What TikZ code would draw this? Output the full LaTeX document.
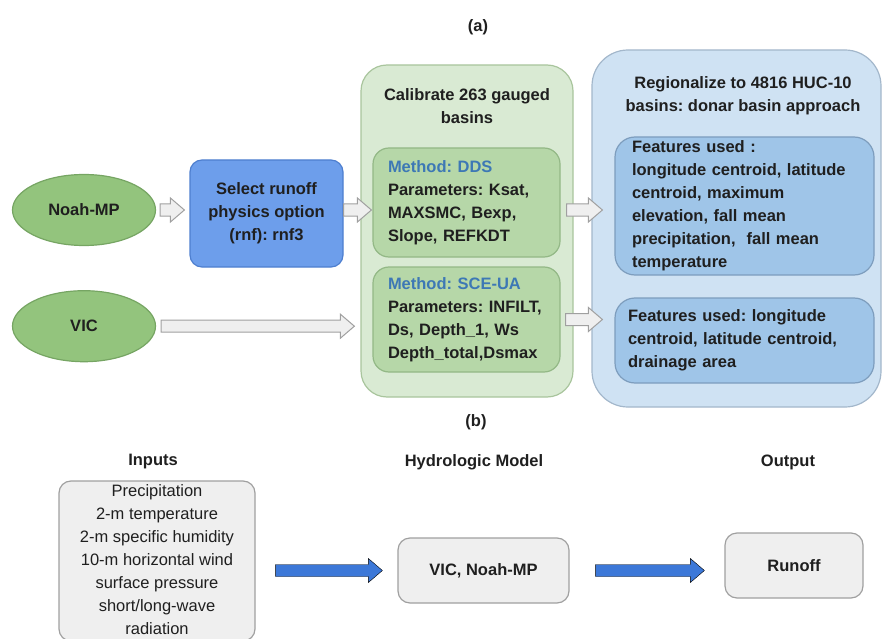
\documentclass[tikz,border=0pt]{standalone}
\usepackage{fontspec}
\setmainfont{Liberation Sans}
\frenchspacing
\usetikzlibrary{shapes.geometric, positioning, calc}

\definecolor{ovalgreen}{HTML}{93C47D}
\definecolor{ovaledge}{HTML}{76A563}
\definecolor{selectblue}{HTML}{6D9EEB}
\definecolor{selectedge}{HTML}{4E7FCF}
\definecolor{calibfill}{HTML}{D9EAD3}
\definecolor{calibedge}{HTML}{A9C59D}
\definecolor{methodfill}{HTML}{B6D7A8}
\definecolor{methodedge}{HTML}{93B886}
\definecolor{methodtext}{HTML}{3D78B5}
\definecolor{regionfill}{HTML}{CFE2F3}
\definecolor{regionedge}{HTML}{A3B7CB}
\definecolor{featfill}{HTML}{9FC5E8}
\definecolor{featedge}{HTML}{7D9DBD}
\definecolor{boxgray}{HTML}{EFEFEF}
\definecolor{edgegray}{HTML}{A0A0A0}
\definecolor{arrowblue}{HTML}{3C78D8}
\definecolor{inktext}{HTML}{1F1F1F}

\tikzset{
  base_font/.style={font=\fontsize{16.5}{23}\selectfont\bfseries, text=inktext},
  model_oval/.style={ellipse, draw=ovaledge, fill=ovalgreen, line width=1.2pt, minimum width=143pt, minimum height=71pt, base_font},
  option_box/.style={rectangle, draw=selectedge, fill=selectblue, line width=1.2pt, rounded corners=12pt, minimum width=153pt, minimum height=107pt, align=center, base_font},
  outer_green/.style={rectangle, draw=calibedge, fill=calibfill, line width=1.2pt, rounded corners=26pt},
  outer_blue/.style={rectangle, draw=regionedge, fill=regionfill, line width=1.2pt, rounded corners=36pt},
  method_box/.style={rectangle, draw=methodedge, fill=methodfill, line width=1.2pt, rounded corners=16pt, inner xsep=15pt, text width=157pt, align=left, base_font},
  feature_box/.style={rectangle, draw=featedge, fill=featfill, line width=1.2pt, rounded corners=20pt, align=left, base_font},
  heading/.style={align=center, base_font},
  plain_box/.style={rectangle, draw=edgegray, fill=boxgray, line width=1.2pt, rounded corners=12pt, align=center, font=\fontsize{16.5}{23}\selectfont, text=inktext},
  block_path/.style n args={2}{to path={let \p1=(\tikztostart), \p2=(\tikztotarget) in
    (\x1+#1,\y1+6pt) -- (\x2-#2-14pt,\y1+6pt) -- (\x2-#2-14pt,\y1+12pt) -- (\x2-#2,\y1)
    -- (\x2-#2-14pt,\y1-12pt) -- (\x2-#2-14pt,\y1-6pt) -- (\x1+#1,\y1-6pt) -- cycle}},
  hollow_arrow/.style n args={2}{block_path={#1}{#2}, draw=edgegray, fill=boxgray, line width=1pt},
  solid_arrow/.style n args={2}{block_path={#1}{#2}, fill=arrowblue},
}

\begin{document}
\begin{tikzpicture}[x=1pt, y=-1pt]
\useasboundingbox (0,0) rectangle (883,639);

% (a) calibration and regionalization
\node (label_a) [heading] at (478,27) {(a)};

\node (noah) [model_oval] at (84,210) {Noah-MP};
\node (vic) [model_oval, below=44pt of noah] {VIC};
\node (select) [option_box] at (266.5,213.5) {Select runoff\\physics option\\(rnf): rnf3};

\node (calib) [outer_green, minimum width=212pt, minimum height=332pt] at (467,231) {};
\node (calib_title) [heading] at (467,106.5) {Calibrate 263 gauged\\basins};
\node (dds) [method_box, minimum height=109pt] at (466.5,202.5)
  {\textcolor{methodtext}{Method: DDS}\\Parameters: Ksat,\\MAXSMC, Bexp,\\Slope, REFKDT};
\node (sceua) [method_box, minimum height=105pt] at (466.5,319.5)
  {\textcolor{methodtext}{Method: SCE-UA}\\Parameters: INFILT,\\Ds, Depth\_1, Ws\\Depth\_total,Dsmax};

\node (region) [outer_blue, minimum width=289pt, minimum height=357pt] at (736.5,228.5) {};
\node (region_title) [heading] at (743,96) {Regionalize to 4816 HUC-10\\basins: donar basin approach};
\node (feat1) [feature_box, inner xsep=17pt, text width=225pt, minimum height=138pt] at (744.5,206)
  {Features used :\\longitude centroid, latitude\\centroid, maximum\\elevation, fall mean\\precipitation,~~fall mean\\temperature};
\node (feat2) [feature_box, inner xsep=13pt, text width=233pt, minimum height=85pt] at (744.5,340.5)
  {Features used: longitude\\centroid, latitude centroid,\\drainage area};

\draw [hollow_arrow={4pt}{5pt}] (noah.east) to (select.west);
\draw [hollow_arrow={0pt}{1pt}] (select.east |- noah.east) to (dds.west);
\draw [hollow_arrow={5pt}{6pt}] (vic.east) to (calib.west |- vic.east);
\draw [hollow_arrow={6pt}{12pt}] (dds.east |- noah.east) to (feat1.west);
\draw [hollow_arrow={5pt}{12pt}] (sceua.east) to (feat2.west);

% (b) model chain
\node (label_b) [heading] at (476,422) {(b)};
\node (inputs_title) [heading] at (153,462) {Inputs};
\node (model_title) [heading] at (474,462) {Hydrologic Model};
\node (output_title) [heading] at (788,462) {Output};

\node (inputs) [plain_box, minimum width=196pt, minimum height=160pt, text depth=2pt] at (157,561)
  {Precipitation\\2-m temperature\\2-m specific humidity\\10-m horizontal wind\\surface pressure\\short/long-wave\\radiation};
\node (hydro) [plain_box, base_font, minimum width=171pt, minimum height=65pt] at (483.5,570.5) {VIC, Noah-MP};
\node (runoff) [plain_box, base_font, minimum width=138pt, minimum height=65pt] at (794,565.5) {Runoff};

\draw [solid_arrow={20pt}{15pt}] (inputs.east |- hydro.west) to (hydro.west);
\draw [solid_arrow={26pt}{20pt}] (hydro.east) to (runoff.west);
\end{tikzpicture}
\end{document}
